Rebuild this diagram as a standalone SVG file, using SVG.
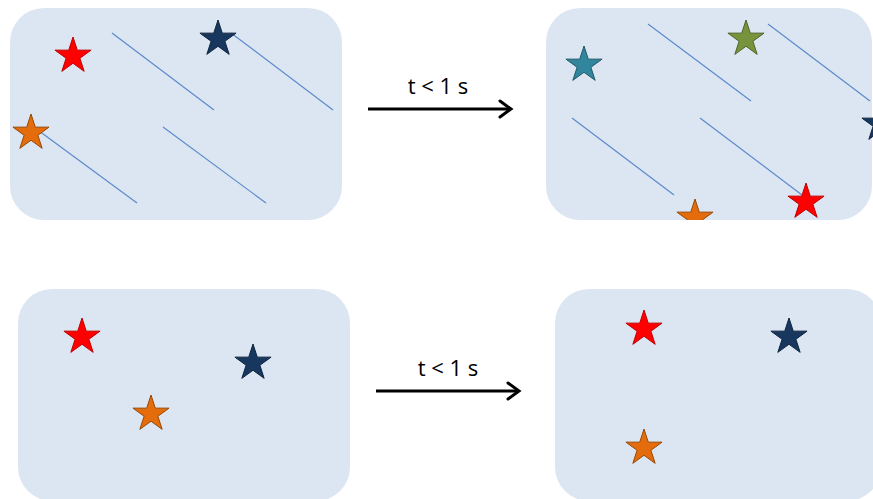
<svg xmlns="http://www.w3.org/2000/svg" width="873" height="499" viewBox="0 0 873 499">
<style>
.box{fill:#DCE6F2;}
.trail{stroke:#5B8BCB;stroke-width:1.2;fill:none;}
.arrow{stroke:#000;stroke-width:3;fill:none;}
.arrowhead{stroke:#000;stroke-width:3;fill:none;stroke-linecap:round;stroke-linejoin:miter;}
.lbl{font-family:"Open Sans","Liberation Sans",sans-serif;font-size:22px;fill:#000;text-anchor:middle;}
.red{fill:#FF0000;stroke:#C00000;stroke-width:1;}
.navy{fill:#17375E;stroke:#0F243E;stroke-width:1;}
.orange{fill:#E46C0A;stroke:#974806;stroke-width:1;}
.teal{fill:#31859C;stroke:#205867;stroke-width:1;}
.olive{fill:#77933C;stroke:#4F6228;stroke-width:1;}
</style>
<defs>
<path id="star" d="M0,-19 L4.27,-5.87 L18.07,-5.87 L6.9,2.24 L11.17,15.37 L0,7.26 L-11.17,15.37 L-6.9,2.24 L-18.07,-5.87 L-4.27,-5.87 Z"/>
<clipPath id="clipTR" clipPathUnits="userSpaceOnUse"><rect x="546" y="0" width="340" height="220"/></clipPath>
</defs>

<g id="panel-top-left">
<rect class="box" x="10" y="8" width="332" height="212" rx="34" ry="34"/>
<g class="trails">
<line class="trail" x1="112" y1="33" x2="214" y2="110"/>
<line class="trail" x1="231" y1="33" x2="333" y2="110"/>
<line class="trail" x1="35" y1="128" x2="137" y2="203"/>
<line class="trail" x1="163" y1="127" x2="266" y2="203"/>
</g>
<use href="#star" class="red" x="73" y="56"/>
<use href="#star" class="navy" x="218" y="39"/>
<use href="#star" class="orange" x="31" y="133"/>
</g>

<g id="panel-top-right">
<rect class="box" x="546" y="8" width="326" height="212" rx="34" ry="34"/>
<g class="trails">
<line class="trail" x1="648" y1="24" x2="751" y2="101"/>
<line class="trail" x1="768" y1="24" x2="870" y2="101"/>
<line class="trail" x1="572" y1="118" x2="674" y2="195"/>
<line class="trail" x1="700" y1="118" x2="802" y2="195"/>
</g>
<use href="#star" class="teal" x="584" y="65"/>
<use href="#star" class="olive" x="746" y="39"/>
<use href="#star" class="navy" x="880" y="124"/>
<use href="#star" class="red" x="806" y="202"/>
<g clip-path="url(#clipTR)">
<use href="#star" class="orange" x="695" y="218"/>
</g>
</g>

<g id="panel-bottom-left">
<rect class="box" x="18" y="289" width="332" height="212" rx="34" ry="34"/>
<use href="#star" class="red" x="82" y="337"/>
<use href="#star" class="navy" x="253" y="363"/>
<use href="#star" class="orange" x="151" y="414"/>
</g>

<g id="panel-bottom-right">
<rect class="box" x="555" y="289" width="326" height="212" rx="34" ry="34"/>
<use href="#star" class="red" x="644" y="329"/>
<use href="#star" class="navy" x="789" y="337"/>
<use href="#star" class="orange" x="644" y="448"/>
</g>

<g id="connectors">
<g id="arrow-top">
<line class="arrow" x1="368" y1="109" x2="510" y2="109"/>
<polyline class="arrowhead" points="500,101 511,109 500,117"/>
<text class="lbl" x="438" y="94">t &lt; 1 s</text>
</g>
<g id="arrow-bottom">
<line class="arrow" x1="376" y1="391" x2="518" y2="391"/>
<polyline class="arrowhead" points="508,383 519,391 508,399"/>
<text class="lbl" x="448" y="376">t &lt; 1 s</text>
</g>
</g>
</svg>
